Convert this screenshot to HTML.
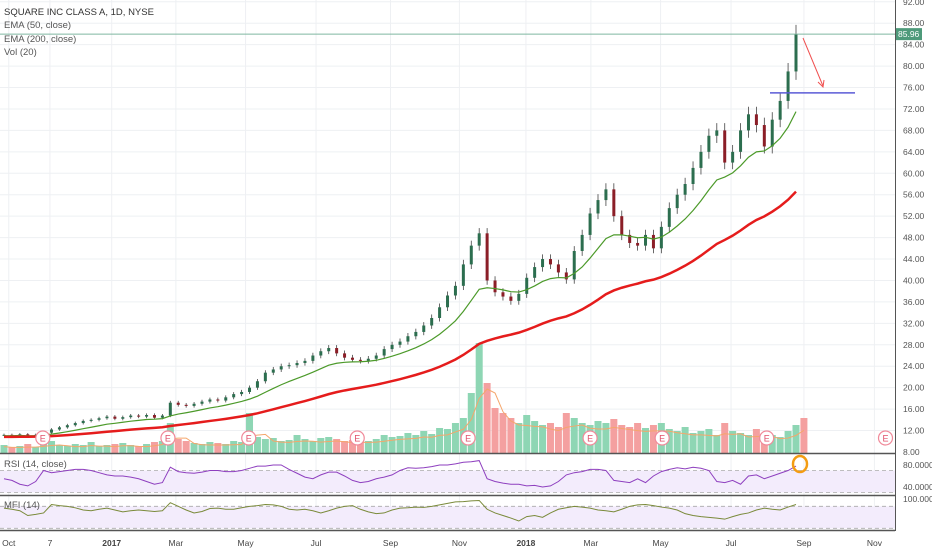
<!DOCTYPE html>
<html><head><meta charset="utf-8"><style>
html,body{margin:0;padding:0;background:#fff;width:932px;height:550px;overflow:hidden;font-family:"Liberation Sans",sans-serif}
svg{display:block}
text{font-family:"Liberation Sans",sans-serif}
</style></head><body>
<svg id="chart" width="932" height="550" viewBox="0 0 932 550" xmlns="http://www.w3.org/2000/svg">
<g id="grid"></g>
<g id="vol"></g>
<g id="candles"></g>
<g id="lines"></g>
<g id="axes"></g>
<g id="legend">
<text x="4" y="15" font-size="9.5" fill="#333">SQUARE INC CLASS A, 1D, NYSE</text>
<text x="4" y="28" font-size="9.5" fill="#555">EMA (50, close)</text>
<text x="4" y="42" font-size="9.5" fill="#555">EMA (200, close)</text>
<text x="4" y="55" font-size="9.5" fill="#555">Vol (20)</text>
<text x="4" y="467" font-size="9.5" fill="#555">RSI (14, close)</text>
<text x="4" y="508" font-size="9.5" fill="#555">MFI (14)</text>
</g>
</svg>
<script>
const closes=[11.2,11.0,11.3,10.9,11.2,11.6,12.2,12.6,13.0,13.4,13.8,14.0,14.3,14.6,14.2,14.5,14.8,14.6,14.9,14.4,14.8,
17.2,16.8,16.6,17.0,17.4,17.8,17.6,18.2,18.8,19.2,
20.0,21.2,22.8,23.4,24.0,24.2,24.6,25.0,26.0,26.8,
27.4,26.4,25.6,25.2,25.0,25.4,26.0,27.2,28.0,28.6,
29.6,30.4,31.6,33.0,35.0,37.2,39.0,43.0,46.5,48.8,
40.0,37.8,37.0,36.2,37.5,40.5,42.5,44.0,43.0,41.5,
40.2,45.5,48.5,52.5,55.0,57.0,52.0,48.5,47.0,46.5,
48.5,46.0,50.0,53.5,56.0,58.0,61.0,64.0,67.0,68.0,
62.0,64.0,68.0,71.0,69.0,65.0,70.0,73.5,79.0,85.96];
const volumes=[8,6,7,9,6,10,12,8,7,9,8,11,7,8,9,10,8,7,9,11,12,
30,14,12,10,9,11,10,9,12,11,
40,16,14,15,12,13,18,14,12,15,
16,14,12,13,15,12,14,18,16,17,
20,18,22,19,25,24,30,35,60,110,
70,45,40,35,30,38,32,28,30,26,
40,35,30,28,32,30,34,28,26,30,
25,28,30,24,22,26,20,22,24,18,
30,22,20,18,24,20,18,16,22,28,35];
const rsiValues=[55,52,45,42,50,70,66,68,70,72,72,70,66,62,60,60,58,55,50,45,
48,76,68,66,65,67,70,70,68,68,70,74,78,78,80,80,72,65,58,55,
62,67,67,60,52,48,50,55,58,62,70,75,74,75,77,80,80,82,85,86,
88,55,50,47,45,45,42,43,40,42,50,62,66,68,72,72,70,52,50,48,
55,48,60,68,72,75,73,76,74,70,50,48,52,45,60,62,55,60,65,70,78];
const mfiValues=[75,72,68,55,58,62,85,82,80,76,70,68,72,75,70,65,68,70,68,66,
68,90,80,70,62,66,74,75,72,72,76,80,82,85,84,80,72,70,72,68,
62,68,75,80,82,72,65,60,62,70,75,76,78,77,80,84,88,92,93,95,
96,72,62,55,48,40,52,55,50,62,72,76,80,78,75,70,68,65,72,80,
84,85,82,78,75,70,60,55,52,50,48,45,52,58,62,70,75,72,70,78,85];
const priceTicks=[12,16,20,24,28,32,36,40,44,48,52,56,60,64,68,72,76,80,84,88,92];
const timeLabels=["Oct","7","2017","Mar","May","Jul","Sep","Nov","2018","Mar","May","Jul","Sep","Nov"];
const timeIdx=[0.6,5.8,13.6,21.7,30.5,39.4,48.8,57.5,65.9,74.1,82.9,91.8,101,109.9];
const earningsIdx=[4.9,20.7,30.9,44.6,58.6,74.0,83.1,96.3,111.3];
const lastPrice=85.96, supportPrice=75.0;

const NS="http://www.w3.org/2000/svg";
const X0=4, STEP=7.92, PR=895;
const xs=i=>X0+i*STEP;
const yp=p=>452-(p-8)*5.36;
const yr=v=>465+(80-v)*0.55;
const ym=v=>499+(100-v)*0.3667;
function el(tag,attrs,parent){const e=document.createElementNS(NS,tag);for(const k in attrs)e.setAttribute(k,attrs[k]);parent.appendChild(e);return e;}
const G=id=>document.getElementById(id);
const grid=G('grid'),vol=G('vol'),cand=G('candles'),lines=G('lines'),axes=G('axes');

priceTicks.forEach(p=>{const l=el('line',{x1:0,x2:PR,y1:yp(p),y2:yp(p),stroke:'#eef0f3','stroke-width':1},grid);

});
timeIdx.forEach(t=>{const l=el('line',{x1:xs(t),x2:xs(t),y1:0,y2:531,stroke:'#eef0f3','stroke-width':1},grid);

});

const rsiBand=el('rect',{x:0,y:yr(70),width:PR,height:yr(30)-yr(70),fill:'#f3ecfc'},grid);


const mfiBand=el('rect',{x:0,y:ym(80),width:PR,height:ym(20)-ym(80),fill:'#f3ecfc'},grid);


[yr(70),yr(30),ym(80),ym(20)].forEach(y=>{const l=el('line',{x1:0,x2:PR,y1:y,y2:y,stroke:'#aaa','stroke-dasharray':'4,3','stroke-width':0.8},grid);

});
[453.5,495.5,530.5].forEach(y=>{const l=el('line',{x1:0,x2:PR,y1:y,y2:y,stroke:'#555','stroke-width':1.5},axes);

});

volumes.forEach((v,i)=>{const up=i===0||closes[i]>=closes[i-1];
const r=el('rect',{x:xs(i)-3.5,y:453-v,width:7,height:v,fill:up?'#8ed6b4':'#f4a0a0'},vol);

});
let vma=[];volumes.forEach((v,i)=>{const s=volumes.slice(Math.max(0,i-2),i+1);vma.push(s.reduce((a,b)=>a+b,0)/s.length*0.8);});
const vp=el('polyline',{points:vma.map((v,i)=>xs(i)+','+(453-v)).join(' '),fill:'none',stroke:'#f5a66b','stroke-width':1},vol);



function ema(n,seed){let e=seed,out=[];closes.forEach(c=>{e=e+(c-e)*2/(n+1);out.push(e);});return out;}
const e50=ema(11,11.0), e200=ema(40,10.8);
const l50=el('polyline',{points:e50.map((v,i)=>xs(i)+','+yp(v)).join(' '),fill:'none',stroke:'#4c9a2a','stroke-width':1.2},lines);


const l200=el('polyline',{points:e200.map((v,i)=>xs(i)+','+yp(v)).join(' '),fill:'none',stroke:'#e51c1c','stroke-width':2.5},lines);



closes.forEach((c,i)=>{const o=i===0?c:closes[i-1];const up=c>=o;const col=up?'#2c6e4f':'#8b1e27';
const hi=Math.max(o,c)*1.02, lo=Math.min(o,c)*0.98;
const w=el('line',{x1:xs(i),x2:xs(i),y1:yp(hi),y2:yp(lo),stroke:'#444','stroke-width':0.8},cand);


const b=el('rect',{x:xs(i)-1.5,y:yp(Math.max(o,c)),width:3,height:Math.max(1,Math.abs(yp(o)-yp(c))),fill:col},cand);

});

const rl=el('polyline',{points:rsiValues.map((v,i)=>xs(i)+','+yr(v)).join(' '),fill:'none',stroke:'#8e3fbf','stroke-width':1},lines);


const ml=el('polyline',{points:mfiValues.map((v,i)=>xs(i)+','+ym(v)).join(' '),fill:'none',stroke:'#7a8a3a','stroke-width':1},lines);



earningsIdx.forEach(t=>{const g=el('g',{},lines);


el('circle',{cx:xs(t),cy:438,r:7,fill:'#fff',stroke:'#f08a9a','stroke-width':1.2},g);
const tx=el('text',{x:xs(t),y:441.5,'font-size':9,fill:'#e0506a','text-anchor':'middle'},g);tx.textContent='E';});

const lp=el('line',{x1:0,x2:PR,y1:yp(lastPrice),y2:yp(lastPrice),stroke:'#7fb7a0','stroke-width':1},lines);


const sl=el('line',{x1:770,x2:855,y1:yp(supportPrice),y2:yp(supportPrice),stroke:'#5b5bd6','stroke-width':1.5},lines);


const ar=el('line',{x1:803,y1:38,x2:823,y2:86,stroke:'#f05050','stroke-width':1},lines);


const ah=el('polyline',{points:'818,82 823,87 824,80',fill:'none',stroke:'#f05050','stroke-width':1},lines);


const oc=el('ellipse',{cx:800,cy:464,rx:7,ry:8,fill:'none',stroke:'#f39c12','stroke-width':2.5},lines);



const pa=el('line',{x1:PR+0.5,x2:PR+0.5,y1:0,y2:531,stroke:'#555','stroke-width':1},axes);


priceTicks.concat([8]).forEach(p=>{const t=el('text',{x:903,y:yp(p)+3,'font-size':8.5,fill:'#555'},axes);t.textContent=p.toFixed(2);

});
const lb=el('rect',{x:896,y:yp(lastPrice)-6,width:26,height:12,fill:'#4e9a7a'},axes);


const lt=el('text',{x:898,y:yp(lastPrice)+3,'font-size':8.5,fill:'#fff'},axes);lt.textContent=lastPrice.toFixed(2);


[[80,yr(80)],[40,yr(40)],[100,ym(100)]].forEach(([v,y])=>{const t=el('text',{x:903,y:y+3,'font-size':8.5,fill:'#555'},axes);t.textContent=v.toFixed(4);

});
timeLabels.forEach((s,k)=>{const bold=/^\d{4}$/.test(s);const t=el('text',{x:xs(timeIdx[k]),y:546,'font-size':8.5,fill:'#444','text-anchor':'middle','font-weight':bold?'bold':'normal'},axes);t.textContent=s;

});
</script>
</body></html>
